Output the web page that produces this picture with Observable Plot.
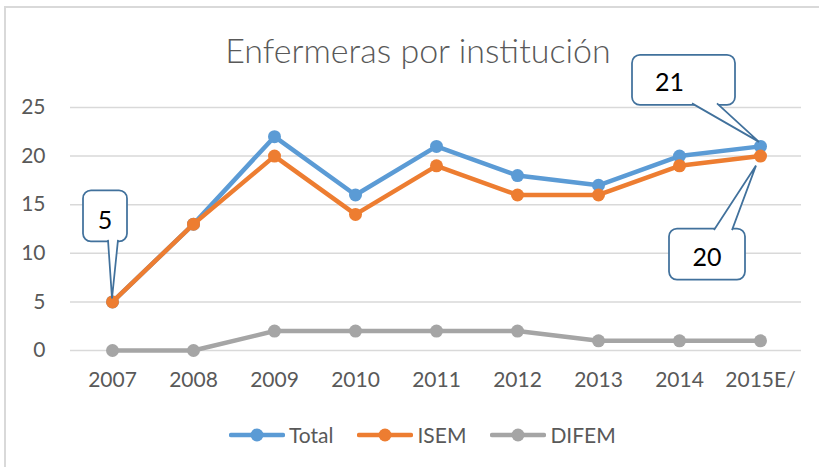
<!DOCTYPE html>
<html>
<head>
<meta charset="utf-8">
<script src="https://cdn.jsdelivr.net/npm/d3@7"></script>
<script src="https://cdn.jsdelivr.net/npm/@observablehq/plot@0.6"></script>
<style>
  html, body { margin: 0; padding: 0; background: #fff; }
  #wrap { position: relative; width: 819px; height: 467px; overflow: hidden; background: #fff; font-family: Lato, "Open Sans", sans-serif; }
  #frame { position: absolute; left: 4px; top: 6px; width: 900px; height: 600px; border: 2px solid #D9D9D9; box-sizing: border-box; }
  #title { position: absolute; left: 0; width: 836px; top: 30px; text-align: center; font-size: 34px; font-weight: 300; color: #595959; line-height: 1.2; }
  #chart { position: absolute; left: 0; top: 0; }
  #legend { position: absolute; left: 229px; top: 422px; display: flex; align-items: center; font-size: 21px; color: #595959; }
  .item { display: flex; align-items: center; margin-right: 24px; }
  .item svg { margin-right: 4px; }
</style>
</head>
<body>
<div id="wrap">
  <div id="frame"></div>
  <div id="chart"></div>
  <div id="title">Enfermeras por institución</div>
  <div id="legend"></div>
</div>
<script>
// ---- data ----
const years = ["2007", "2008", "2009", "2010", "2011", "2012", "2013", "2014", "2015E/"];
const total = [5, 13, 22, 16, 21, 18, 17, 20, 21];
const isem  = [5, 13, 20, 14, 19, 16, 16, 19, 20];
const difem = [0, 0, 2, 2, 2, 2, 1, 1, 1];
const yTicks = [0, 5, 10, 15, 20, 25];
const seriesNames = ["Total", "ISEM", "DIFEM"];
const seriesColors = ["#5B9BD5", "#ED7D31", "#A5A5A5"];
const seriesValues = [total, isem, difem];
// callouts: which point they label
const callouts = [
  { series: "ISEM", year: "2007", text: "5" },
  { series: "Total", year: "2015E/", text: "21" },
  { series: "ISEM", year: "2015E/", text: "20" }
];

const rows = (i) => years.map((yr, j) => ({ year: yr, value: seriesValues[i][j], series: seriesNames[i] }));
// drawing order: DIFEM, Total, ISEM
const drawOrder = [2, 0, 1];
const marks = [Plot.ruleY(yTicks, { stroke: "#D9D9D9", strokeWidth: 1.5 })];
for (const i of drawOrder) {
  const d = rows(i);
  marks.push(Plot.line(d, { x: "year", y: "value", stroke: seriesColors[i], strokeWidth: 4.5, strokeLinejoin: "round", strokeLinecap: "round" }));
  marks.push(Plot.dot(d, { x: "year", y: "value", fill: seriesColors[i], r: 6.5 }));
}

const plot = Plot.plot({
  width: 819,
  height: 400,
  marginLeft: 70,
  marginRight: 18,
  marginTop: 107,
  marginBottom: 50,
  style: { fontFamily: "Lato, 'Open Sans', sans-serif", fontSize: "21px", color: "#595959", background: "transparent", overflow: "visible" },
  x: { type: "point", domain: years, padding: 0.5, label: null, tickSize: 0, tickPadding: 22 },
  y: { domain: [0, 25], ticks: yTicks, label: null, tickSize: 0, tickPadding: 25 },
  marks
});
document.getElementById("chart").appendChild(plot);

// ---- callouts, positioned from the plot's scales ----
const sx = plot.scale("x"), sy = plot.scale("y");
const layout = {
  "5":  { box: [-29, -111, 44, 51], base: [-4, 6], tip: [0, -3], side: "bottom", tdx: 0, tdy: 7 },
  "21": { box: [-128, -91, 103, 50], base: [-68, -43], tip: [-1, -4], side: "bottom", tdx: -14, tdy: 5 },
  "20": { box: [-91, 73, 76, 51], base: [-46, -28], tip: [-4, 10], side: "top", tdx: 0, tdy: 6 }
};
const g = d3.select(plot).append("g");
for (const c of callouts) {
  const si = seriesNames.indexOf(c.series);
  const v = seriesValues[si][years.indexOf(c.year)];
  const px = sx.apply(c.year), py = sy.apply(v);
  const L = layout[c.text];
  const [bx, by, bw, bh] = L.box;
  g.append("rect")
    .attr("x", px + bx).attr("y", py + by).attr("width", bw).attr("height", bh)
    .attr("rx", 8).attr("fill", "#fff").attr("stroke", "#41719C").attr("stroke-width", 1.75);
  const baseY = L.side === "bottom" ? py + by + bh - 1.5 : py + by + 1.5;
  g.append("path")
    .attr("d", `M${px + L.base[0]},${baseY}L${px + L.tip[0]},${py + L.tip[1]}L${px + L.base[1]},${baseY}`)
    .attr("fill", "#fff").attr("stroke", "#41719C").attr("stroke-width", 1.75).attr("stroke-linejoin", "miter");
  g.append("text")
    .attr("x", px + bx + bw / 2 + L.tdx).attr("y", py + by + bh / 2 + L.tdy)
    .attr("text-anchor", "middle").attr("dominant-baseline", "middle")
    .attr("font-size", 25).attr("fill", "#000").text(c.text);
}

// ---- legend ----
const legend = document.getElementById("legend");
seriesNames.forEach((name, i) => {
  const item = document.createElement("div");
  item.className = "item";
  item.innerHTML = `<svg width="56" height="16"><line x1="2" y1="8" x2="54" y2="8" stroke="${seriesColors[i]}" stroke-width="4.5" stroke-linecap="round"/><circle cx="28" cy="8" r="6.5" fill="${seriesColors[i]}"/></svg><span>${name}</span>`;
  legend.appendChild(item);
});
</script>
</body>
</html>
